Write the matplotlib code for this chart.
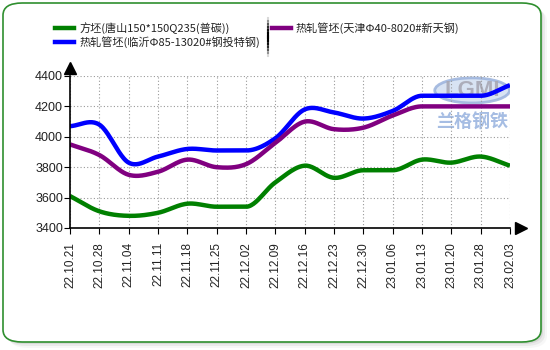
import numpy as np
import matplotlib
matplotlib.use("Agg")
import matplotlib.pyplot as plt
from matplotlib.patches import FancyBboxPatch, Ellipse
from matplotlib.lines import Line2D

plt.rcParams['font.family'] = ['Liberation Sans', 'Noto Sans CJK SC', 'DejaVu Sans']

# weekly price series (yuan/ton)
dates = ["22.10.21", "22.10.28", "22.11.04", "22.11.11", "22.11.18", "22.11.25",
         "22.12.02", "22.12.09", "22.12.16", "22.12.23", "22.12.30", "23.01.06",
         "23.01.13", "23.01.20", "23.01.28", "23.02.03"]
billet_ts = [3610, 3510, 3480, 3500, 3560, 3540, 3540, 3700, 3810, 3730, 3780, 3780,
             3850, 3830, 3870, 3810]
tube_ly = [4070, 4080, 3830, 3870, 3920, 3910, 3910, 3990, 4180, 4160, 4120, 4170,
           4270, 4270, 4270, 4340]
tube_tj = [3950, 3880, 3750, 3770, 3850, 3800, 3820, 3960, 4100, 4050, 4060, 4140,
           4200, 4200, 4200, 4200]

names = ["方坯(唐山150*150Q235(普碳))", "热轧管坯(临沂Φ85-13020#钢投特钢)",
         "热轧管坯(天津Φ40-8020#新天钢)"]
colors = ["#008000", "#0000ff", "#800080"]
y_ticks = [3400, 3600, 3800, 4000, 4200, 4400]

W, H = 550, 350


def smooth(y, n=24):
    """Catmull-Rom curve through the weekly points."""
    y = np.asarray(y, float)
    x = np.arange(len(y), dtype=float)
    m = np.zeros_like(y)
    m[1:-1] = (y[2:] - y[:-2]) / 2.0
    m[0] = y[1] - y[0]
    m[-1] = y[-1] - y[-2]
    # keep flat stretches flat
    for i in range(1, len(y) - 1):
        if y[i] == y[i - 1] or y[i] == y[i + 1]:
            m[i] = 0.0
    xs, ys = [], []
    for i in range(len(y) - 1):
        t = np.linspace(0, 1, n, endpoint=False)
        h00 = 2 * t**3 - 3 * t**2 + 1
        h10 = t**3 - 2 * t**2 + t
        h01 = -2 * t**3 + 3 * t**2
        h11 = t**3 - t**2
        xs.append(x[i] + t)
        ys.append(h00 * y[i] + h10 * m[i] + h01 * y[i + 1] + h11 * m[i + 1])
    xs.append([x[-1]])
    ys.append([y[-1]])
    return np.concatenate(xs), np.concatenate(ys)


def fx(px):
    return px / W


def fy(py):
    return 1 - py / H


fig = plt.figure(figsize=(5.5, 3.5), dpi=100)
fig.patch.set_facecolor("white")

# rounded frame with a soft drop shadow
for k, a in [(6, 0.06), (4, 0.10), (2, 0.16)]:
    fig.patches.append(FancyBboxPatch(
        (fx(3 + k), fy(342 + k)), fx(538), 339 / H,
        boxstyle="round,pad=0,rounding_size=0.035", transform=fig.transFigure,
        facecolor="#808080", edgecolor="none", alpha=a, zorder=0))
fig.patches.append(FancyBboxPatch(
    (fx(3), fy(342)), fx(538), 339 / H,
    boxstyle="round,pad=0,rounding_size=0.035", transform=fig.transFigure,
    facecolor="white", edgecolor="#2f8f2f", linewidth=1.2, zorder=1))

ax = fig.add_axes([fx(70), fy(228), fx(440), 152 / H])
ax.set_facecolor("none")
ax.set_zorder(3)

# watermark logo behind the lines
ax.add_patch(Ellipse((0.914, 0.905), 0.17, 0.165, transform=ax.transAxes,
                     facecolor="#d2def2", edgecolor="#9ab2dc", lw=2, alpha=0.85, zorder=1))
ax.text(0.914, 0.905, "LGMI", transform=ax.transAxes, ha="center", va="center",
        fontsize=16, fontweight="bold", color="#a8a8b4", alpha=0.9, zorder=1)
ax.text(0.914, 0.695, "兰格钢铁", transform=ax.transAxes, ha="center", va="center",
        fontsize=13, fontweight="bold", color="#a6bde3", family=['Noto Sans CJK SC'],
        zorder=1)

x = np.arange(len(dates))
for vals, c in zip([billet_ts, tube_ly, tube_tj], colors):
    sx, sy = smooth(vals)
    ax.plot(sx, sy, color=c, lw=3.2, solid_capstyle="butt", zorder=4)

ax.set_xlim(0, len(dates) - 1)
ax.set_ylim(y_ticks[0], y_ticks[-1])
ax.set_xticks(x)
ax.set_xticklabels(dates, rotation=90, fontsize=8.5, color="#222222")
ax.set_yticks(y_ticks)
ax.set_yticklabels([str(v) for v in y_ticks], fontsize=9, color="#222222")
ax.tick_params(axis="x", length=4, pad=6, direction="out")
ax.tick_params(axis="y", length=4, pad=1, direction="out")
ax.grid(True, color="#999999", linestyle=(0, (1, 2)), linewidth=0.8)
for s in ["top", "right"]:
    ax.spines[s].set_visible(False)
for s in ["left", "bottom"]:
    ax.spines[s].set_color("black")
    ax.spines[s].set_linewidth(1.2)
    ax.spines[s].set_zorder(5)

# axis arrows
ax.plot([0], [1.055], marker="^", color="black", markersize=8, transform=ax.transAxes,
        clip_on=False, zorder=6)
ax.plot([1.025], [0], marker=">", color="black", markersize=8, transform=ax.transAxes,
        clip_on=False, zorder=6)

# legend at the top of the panel
legend_items = [(55, 28, 0), (55, 42, 1), (272, 28, 2)]
for px, py, i in legend_items:
    fig.lines.append(Line2D([fx(px), fx(px + 19)], [fy(py), fy(py)], color=colors[i],
                            lw=3.2, transform=fig.transFigure, zorder=5))
    fig.text(fx(px + 24), fy(py), names[i], fontsize=8, va="center", ha="left",
             color="#222222", family=['Noto Sans CJK SC', 'DejaVu Sans'], zorder=5)
for k, a in enumerate(np.linspace(0.15, 1.0, 6)):
    fig.lines.append(Line2D([fx(268), fx(268)], [fy(18 + 3 * k), fy(21 + 3 * k)],
                            color="black", alpha=a, lw=1.5, transform=fig.transFigure))
    fig.lines.append(Line2D([fx(268), fx(268)], [fy(56 - 3 * k), fy(53 - 3 * k)],
                            color="black", alpha=a, lw=1.5, transform=fig.transFigure))
fig.lines.append(Line2D([fx(268), fx(268)], [fy(36), fy(38)], color="black", lw=1.5,
                        transform=fig.transFigure))

fig.savefig("out.png", dpi=100, facecolor="white")
